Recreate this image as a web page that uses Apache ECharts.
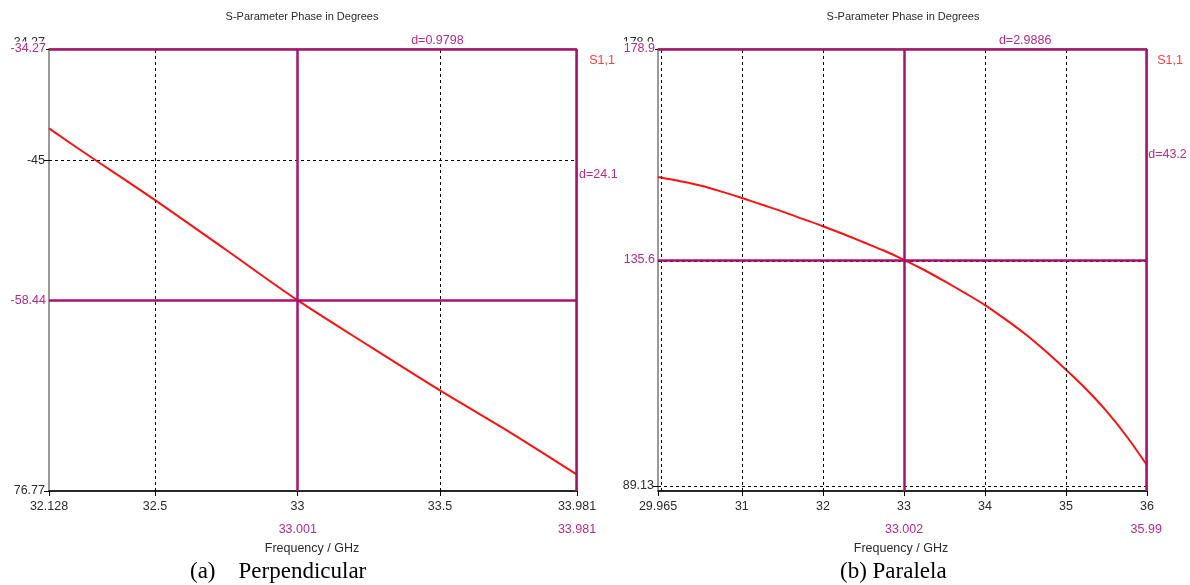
<!DOCTYPE html>
<html>
<head>
<meta charset="utf-8">
<title>S-Parameter Phase in Degrees</title>
<script src="https://cdn.jsdelivr.net/npm/echarts@6/dist/echarts.min.js"></script>
<style>
  html, body { margin: 0; padding: 0; background: #fff; }
  #c { width: 1190px; height: 585px; }
</style>
</head>
<body>
<div id="c"></div>
<script>
// ---- Panel (a): Perpendicular ----
const freqA   = [32.128, 32.25, 32.5, 32.75, 33.0, 33.25, 33.5, 33.75, 33.981];
const phaseA  = [-41.9, -44.2, -48.8, -53.6, -58.42, -62.8, -67.1, -71.2, -75.2];
const xTicksA = [32.128, 32.5, 33, 33.5, 33.981];
const xTickTextA = ['32.128', '32.5', '33', '33.5', '33.981'];
const yTicksA = [-76.77, -45, -34.27];
const yTickTextA = ['76.77', '-45', '-34.27'];
const xGridA  = [32.5, 33, 33.5];
const yGridA  = [-45];
const markerXA = [33.001, 33.981];
const markerXTextA = ['33.001', '33.981'];
const markerYA = [-34.27, -58.44];
const markerYTextA = ['-34.27', '-58.44'];
const deltaTextA = ['d=0.9798', 'd=24.1'];
const boundsA = [32.128, 33.981, -76.77, -34.27];

// ---- Panel (b): Paralela ----
const freqB   = [29.965, 30.25, 30.5, 30.75, 31, 31.25, 31.5, 31.75, 32, 32.25, 32.5, 32.75, 33,
                 33.25, 33.5, 33.75, 34, 34.25, 34.5, 34.75, 35, 35.25, 35.5, 35.75, 36];
const phaseB  = [152.6, 151.7, 150.8, 149.6, 148.3, 146.9, 145.5, 144.0, 142.5, 140.9, 139.2, 137.5, 135.6,
                 133.5, 131.2, 128.8, 126.3, 123.4, 120.3, 116.8, 113.0, 109.0, 104.5, 99.3, 93.4];
const xTicksB = [29.965, 31, 32, 33, 34, 35, 36];
const xTickTextB = ['29.965', '31', '32', '33', '34', '35', '36'];
const yTicksB = [89.13, 178.9];
const yTickTextB = ['89.13', '178.9'];
const xGridB  = [30, 31, 32, 33, 34, 35];
const yGridB  = [89.13, 135.2];
const markerXB = [33.002, 35.99];
const markerXTextB = ['33.002', '35.99'];
const markerYB = [178.9, 135.6];
const markerYTextB = ['178.9', '135.6'];
const deltaTextB = ['d=2.9886', 'd=43.2'];
const boundsB = [29.965, 36, 88.1, 178.9];

const FONT = 'Liberation Sans';
const INK = '#2b2b2b';
const MAG = '#b82a84';
const MAGLINE = '#a8126c';
const RED = '#ff1010';
const LABEL_SIZE = 12.5;

const panels = [
  { grid: { left: 49, top: 49, width: 528, height: 442 },
    fx: freqA, fy: phaseA, xt: xTicksA, xtt: xTickTextA, yt: yTicksA, ytt: yTickTextA,
    xg: xGridA, yg: yGridA, mx: markerXA, mxt: markerXTextA, my: markerYA, myt: markerYTextA,
    b: boundsA, d: deltaTextA },
  { grid: { left: 658, top: 49, width: 489, height: 442 },
    fx: freqB, fy: phaseB, xt: xTicksB, xtt: xTickTextB, yt: yTicksB, ytt: yTickTextB,
    xg: xGridB, yg: yGridB, mx: markerXB, mxt: markerXTextB, my: markerYB, myt: markerYTextB,
    b: boundsB, d: deltaTextB }
];

const lookup = (vals, texts) => v => {
  const i = vals.findIndex(t => Math.abs(t - v) < 1e-6);
  return i >= 0 ? texts[i] : '';
};

const grids = [], xAxes = [], yAxes = [], series = [];

panels.forEach((p, i) => {
  grids.push(Object.assign({ show: true, borderColor: '#333', borderWidth: 1, backgroundColor: '#fff' }, p.grid));

  // main frequency axis
  xAxes.push({
    type: 'value', gridIndex: i, min: p.b[0], max: p.b[1],
    axisLine: { show: true, onZero: false, lineStyle: { color: '#000', width: 1.5 } },
    axisTick: { show: true, customValues: p.xt, length: 5, lineStyle: { color: '#000' } },
    axisLabel: { customValues: p.xt, color: INK, fontFamily: FONT, fontSize: LABEL_SIZE, margin: 9,
                 formatter: lookup(p.xt, p.xtt) },
    splitLine: { show: false }
  });
  // marker readouts under the axis
  xAxes.push({
    type: 'value', gridIndex: i, min: p.b[0], max: p.b[1], position: 'bottom', offset: 23,
    axisLine: { show: false }, axisTick: { show: false }, splitLine: { show: false },
    axisLabel: { customValues: p.mx, color: MAG, fontFamily: FONT, fontSize: LABEL_SIZE, margin: 9,
                 formatter: lookup(p.mx, p.mxt) }
  });

  const topVal = p.yt[p.yt.length - 1];
  yAxes.push({
    type: 'value', gridIndex: i, min: p.b[2], max: p.b[3],
    axisLine: { show: true, onZero: false, lineStyle: { color: '#9a9a9a', width: 2 } },
    axisTick: { show: true, customValues: p.yt, length: 5, lineStyle: { color: '#000' } },
    axisLabel: {
      customValues: p.yt, color: INK, fontFamily: FONT, fontSize: LABEL_SIZE, margin: 4,
      formatter: v => {
        const s = lookup(p.yt, p.ytt)(v);
        return Math.abs(v - topVal) < 1e-6 ? '{hi|' + s + '}' : s;
      },
      rich: { hi: { color: INK, fontFamily: FONT, fontSize: LABEL_SIZE, padding: [0, 0, 12, 0] } }
    },
    splitLine: { show: false }
  });

  const data = p.fx.map((f, k) => [f, p.fy[k]]);

  series.push({
    type: 'line', xAxisIndex: 2 * i, yAxisIndex: i, data: data,
    showSymbol: false, smooth: 0.3,
    lineStyle: { color: RED, width: 2 }, z: 4, silent: true,
    markLine: {
      silent: true, symbol: 'none', animation: false,
      label: { show: false },
      lineStyle: { color: '#000', type: [3, 3], width: 1 },
      data: p.xg.map(v => ({ xAxis: v })).concat(p.yg.map(v => ({ yAxis: v })))
    }
  });

  series.push({
    type: 'line', xAxisIndex: 2 * i, yAxisIndex: i, data: [], z: 6, silent: true,
    markLine: {
      silent: true, symbol: 'none', animation: false,
      lineStyle: { color: MAGLINE, type: 'solid', width: 2.5 },
      data: p.mx.map(v => ({ xAxis: v, label: { show: false } })).concat(
        p.my.map((v, k) => ({
          yAxis: v,
          label: { show: true, position: 'start', distance: 3, formatter: p.myt[k],
                   color: MAG, fontFamily: FONT, fontSize: LABEL_SIZE, backgroundColor: '#fff',
                   padding: [1, 0, 1, 1] }
        })))
    }
  });
});

const chart = echarts.init(document.getElementById('c'), null, { renderer: 'canvas' });
chart.setOption({
  animation: false,
  backgroundColor: '#fff',
  grid: grids, xAxis: xAxes, yAxis: yAxes, series: series
});

// titles, captions and marker deltas
const txt = (x, y, text, style) => ({
  type: 'text', x: x, y: y, silent: true,
  style: Object.assign({ text: text, fill: INK, font: '11px "' + FONT + '"', textAlign: 'center', textVerticalAlign: 'middle' }, style || {})
});
const labelFont = LABEL_SIZE + 'px "' + FONT + '"';

const graphics = [
  txt(302, 17, 'S-Parameter Phase in Degrees'),
  txt(903, 17, 'S-Parameter Phase in Degrees'),
  txt(312, 549, 'Frequency / GHz', { font: '12.5px "' + FONT + '"' }),
  txt(901, 549, 'Frequency / GHz', { font: '12.5px "' + FONT + '"' }),
  txt(602, 61, 'S1,1', { fill: '#ff3b3b', font: labelFont }),
  txt(1170, 61, 'S1,1', { fill: '#ff3b3b', font: labelFont }),
  txt(190, 572, '(a)    Perpendicular', { fill: '#000', font: '23px "Liberation Serif"', textAlign: 'left' }),
  txt(840, 572, '(b) Paralela', { fill: '#000', font: '23px "Liberation Serif"', textAlign: 'left' })
];

panels.forEach((p, i) => {
  const a = chart.convertToPixel({ gridIndex: i }, [p.mx[0], p.my[0]]);
  const b = chart.convertToPixel({ gridIndex: i }, [p.mx[1], p.my[1]]);
  graphics.push(txt((a[0] + b[0]) / 2, a[1] - 8, p.d[0], { fill: MAG, font: labelFont }));
  graphics.push(txt(b[0] + 2, (a[1] + b[1]) / 2, p.d[1], { fill: MAG, font: labelFont, textAlign: 'left' }));
});

chart.setOption({ graphic: graphics });
</script>
</body>
</html>
